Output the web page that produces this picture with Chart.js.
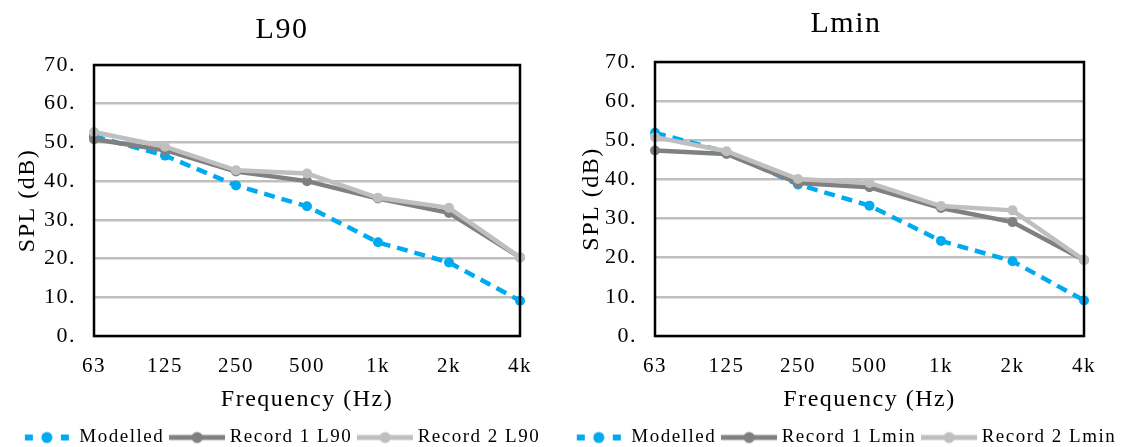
<!DOCTYPE html>
<html><head><meta charset="utf-8">
<script src="https://cdn.jsdelivr.net/npm/chart.js@4.4.1/dist/chart.umd.min.js"></script>
<style>
html,body{margin:0;padding:0;background:#fff;width:1128px;height:447px;overflow:hidden}
.c{position:absolute;top:0;width:564px;height:447px}
</style></head><body>
<div class="c" style="left:0"><canvas id="c1"></canvas></div>
<div class="c" style="left:564px"><canvas id="c2"></canvas></div>
<script>
const categories = ['63','125','250','500','1k','2k','4k'];
const yTicks = [0,10,20,30,40,50,60,70];
const modelledL90 = [51.6,46.6,38.9,33.5,24.2,19.0,9.1];
const record1L90 = [50.8,48.0,42.5,40.0,35.5,31.8,20.3];
const record2L90 = [52.7,48.9,42.8,42.0,35.7,33.1,20.3];
const modelledLmin = [51.9,47.0,38.7,33.3,24.3,19.1,9.1];
const record1Lmin = [47.4,46.5,39.1,38.0,32.7,29.1,19.4];
const record2Lmin = [50.8,47.2,40.1,39.1,33.2,32.1,19.4];

const BLUE = '#00aaf0', DARK = '#808080', LIGHT = '#bfbfbf';
const SERIF = "'Liberation Serif', 'Times New Roman', serif";

function legendIcon(color, dashed) {
  const c = document.createElement('canvas');
  c.width = 56; c.height = 14;
  const g = c.getContext('2d');
  g.fillStyle = color;
  if (dashed) {
    g.fillRect(6, 4, 8, 6);
    g.fillRect(42, 4, 8, 6);
    g.beginPath(); g.arc(28, 7, 5.5, 0, Math.PI * 2); g.fill();
  } else {
    g.fillRect(0, 4.5, 56, 5);
    g.beginPath(); g.arc(28, 7, 5.5, 0, Math.PI * 2); g.fill();
  }
  return c;
}

const spacingPlugin = {
  id: 'spacing',
  beforeUpdate(chart) { chart.ctx.letterSpacing = '1.5px'; },
  beforeDraw(chart) { chart.ctx.letterSpacing = '1.5px'; }
};

const borderPlugin = {
  id: 'box',
  afterDatasetsDraw(chart) {
    const a = chart.chartArea, ctx = chart.ctx;
    ctx.save();
    ctx.strokeStyle = '#000'; ctx.lineWidth = 2.5;
    ctx.strokeRect(a.left, a.top, a.right - a.left, a.bottom - a.top);
    ctx.restore();
  }
};

function makeChart(id, title, names, series, geo) {
  const colors = [BLUE, DARK, LIGHT];
  const icons = colors.map((c, i) => legendIcon(c, i === 0));
  const datasets = series.map((d, i) => ({
    label: names[i],
    data: d,
    borderColor: colors[i],
    backgroundColor: colors[i],
    borderWidth: 4.5,
    borderDash: i === 0 ? [11, 7] : [],
    pointRadius: 5,
    pointHoverRadius: 5,
    pointBorderWidth: 0,
    pointStyle: 'circle',
    tension: 0,
    order: 3 - i
  }));
  return new Chart(document.getElementById(id), {
    type: 'line',
    data: { labels: categories, datasets },
    plugins: [spacingPlugin, borderPlugin],
    options: {
      responsive: true, maintainAspectRatio: false, animation: false,
      layout: { padding: { left: 0, right: 0, top: 0, bottom: -10 } },
      plugins: {
        tooltip: { enabled: false },
        title: {
          display: true, text: title, color: '#000',
          font: { family: SERIF, size: 30, weight: 'normal' },
          padding: { top: geo.titleTop, bottom: geo.titleBottom }
        },
        legend: {
          position: 'bottom',
          labels: {
            color: '#000',
            font: { family: SERIF, size: 19 },
            usePointStyle: true,
            pointStyleWidth: 46,
            padding: 10,
            generateLabels(chart) {
              return chart.data.datasets.map((ds, i) => ({
                text: ds.label, pointStyle: icons[i],
                fillStyle: ds.borderColor, strokeStyle: ds.borderColor,
                lineWidth: 0, hidden: false, datasetIndex: i, fontColor: '#000'
              }));
            }
          }
        }
      },
      scales: {
        x: {
          offset: false,
          afterFit(s) { s.height = 82; },
          grid: { display: false, drawTicks: false },
          border: { display: false },
          ticks: { color: '#000', font: { family: SERIF, size: 21 }, padding: 18, maxRotation: 0 },
          title: { display: true, text: 'Frequency (Hz)', color: '#000',
                   font: { family: SERIF, size: 24 }, padding: { top: 0, bottom: 4 } }
        },
        y: {
          min: 0, max: 70,
          afterBuildTicks(s) { s.ticks = yTicks.map(v => ({ value: v })); },
          afterFit(s) { s.width = geo.yWidth; },
          grid: { color: '#bfbfbf', lineWidth: 2.5, drawTicks: false },
          border: { display: false },
          ticks: { color: '#000', font: { family: SERIF, size: 22 }, padding: 18,
                   callback: v => v + '.' },
          title: { display: true, text: 'SPL (dB)', color: '#000',
                   font: { family: SERIF, size: 24 }, padding: { top: 13, bottom: 0 } }
        },
        yRight: {
          position: 'right',
          afterFit(s) { s.width = 44; },
          grid: { display: false, drawTicks: false },
          border: { display: false },
          ticks: { display: false }
        }
      }
    }
  });
}

const c1 = makeChart('c1', 'L90', ['Modelled', 'Record 1 L90', 'Record 2 L90'],
  [modelledL90, record1L90, record2L90],
  { titleTop: 12, titleBottom: 17, yWidth: 94 });
const c2 = makeChart('c2', 'Lmin', ['Modelled', 'Record 1 Lmin', 'Record 2 Lmin'],
  [modelledLmin, record1Lmin, record2Lmin],
  { titleTop: 6, titleBottom: 20, yWidth: 91 });
</script>
</body></html>
